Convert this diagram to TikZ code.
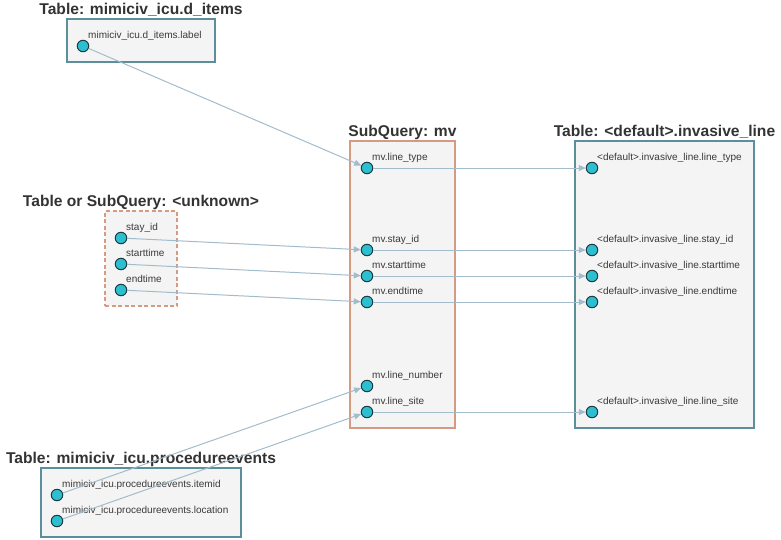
\documentclass[tikz,border=0pt]{standalone}
\usepackage{fontspec}
\setmainfont{Liberation Sans}
\usetikzlibrary{arrows.meta}
\definecolor{boxfill}{HTML}{F4F4F4}
\definecolor{tblborder}{HTML}{5B8F9B}
\definecolor{sqborder}{HTML}{D69A82}
\definecolor{edgec}{HTML}{A3BCCC}
\definecolor{dotfill}{HTML}{2BBFCF}
\definecolor{dotdraw}{HTML}{1E3A42}
\definecolor{txt}{HTML}{333333}
\definecolor{lbltxt}{HTML}{3A3A3A}
\begin{document}
\begin{tikzpicture}[x=1pt,y=-1pt,
 boxbase/.style={rectangle, fill=boxfill, line width=1.1pt, inner sep=0pt},
 tbl/.style={boxbase, draw=tblborder},
 sq/.style={boxbase, draw=sqborder},
 unkbox/.style={sq, dash pattern=on 4pt off 2.5pt},
 ttl/.style={font=\bfseries\fontsize{15.6}{18}\selectfont, text=txt, anchor=base, inner sep=0pt, yshift=4pt},
 dot/.style={circle, minimum size=11.5pt, inner sep=0pt, fill=dotfill, draw=dotdraw, line width=1pt},
 lbl/.style={font=\fontsize{10}{12}\selectfont, text=lbltxt, anchor=base west, inner sep=0pt},
 edge/.style={draw=edgec, line width=1pt, -{Triangle[length=7pt,width=6pt]}}
]
\useasboundingbox (0,0) rectangle (781,539);

% boxes
\node[tbl, minimum width=148pt, minimum height=43pt] (ditems) at (141,40.5) {};
\node[unkbox, minimum width=72pt, minimum height=95pt] (unk) at (141,258.5) {};
\node[sq, minimum width=105pt, minimum height=287pt] (mv) at (402.5,284.5) {};
\node[tbl, minimum width=179pt, minimum height=287pt] (inv) at (664.5,284.5) {};
\node[tbl, minimum width=200pt, minimum height=69pt] (proc) at (141,502.5) {};

% titles
\node[ttl] (t_ditems) at (ditems.north) {Table: mimiciv\_icu.d\_items};
\node[ttl] (t_unk) at (unk.north) {Table or SubQuery: <unknown>};
\node[ttl] (t_mv) at (mv.north) {SubQuery: mv};
\node[ttl] (t_inv) at (inv.north) {Table: <default>.invasive\_line};
\node[ttl] (t_proc) at (proc.north) {Table: mimiciv\_icu.procedureevents};

% d_items
\node[dot] (d_label) at (83,46) {};
\node[lbl] (l_d_label) at (88,38.5) {mimiciv\_icu.d\_items.label};

% unknown
\node[dot] (u_stay) at (121,238) {};
\node[lbl] (l_u_stay) at (126,230.5) {stay\_id};
\node[dot] (u_start) at (121,264) {};
\node[lbl] (l_u_start) at (126,256.5) {starttime};
\node[dot] (u_end) at (121,290) {};
\node[lbl] (l_u_end) at (126,282.5) {endtime};

% mv
\node[dot] (m_type) at (367,168) {};
\node[lbl] (l_m_type) at (372,160.5) {mv.line\_type};
\node[dot] (m_stay) at (367,250) {};
\node[lbl] (l_m_stay) at (372,242.5) {mv.stay\_id};
\node[dot] (m_start) at (367,276) {};
\node[lbl] (l_m_start) at (372,268.5) {mv.starttime};
\node[dot] (m_end) at (367,302) {};
\node[lbl] (l_m_end) at (372,294.5) {mv.endtime};
\node[dot] (m_num) at (367,386) {};
\node[lbl] (l_m_num) at (372,378.5) {mv.line\_number};
\node[dot] (m_site) at (367,412) {};
\node[lbl] (l_m_site) at (372,404.5) {mv.line\_site};

% invasive_line
\node[dot] (i_type) at (592,168) {};
\node[lbl] (l_i_type) at (597,160.5) {<default>.invasive\_line.line\_type};
\node[dot] (i_stay) at (592,250) {};
\node[lbl] (l_i_stay) at (597,242.5) {<default>.invasive\_line.stay\_id};
\node[dot] (i_start) at (592,276) {};
\node[lbl] (l_i_start) at (597,268.5) {<default>.invasive\_line.starttime};
\node[dot] (i_end) at (592,302) {};
\node[lbl] (l_i_end) at (597,294.5) {<default>.invasive\_line.endtime};
\node[dot] (i_site) at (592,412) {};
\node[lbl] (l_i_site) at (597,404.5) {<default>.invasive\_line.line\_site};

% procedureevents
\node[dot] (p_item) at (57,495) {};
\node[lbl] (l_p_item) at (62,487.5) {mimiciv\_icu.procedureevents.itemid};
\node[dot] (p_loc) at (57,521) {};
\node[lbl] (l_p_loc) at (62,513.5) {mimiciv\_icu.procedureevents.location};

% edges
\draw[edge] (d_label) -- (m_type);
\draw[edge] (u_stay) -- (m_stay);
\draw[edge] (u_start) -- (m_start);
\draw[edge] (u_end) -- (m_end);
\draw[edge] (p_item) -- (m_num);
\draw[edge] (p_loc) -- (m_site);
\draw[edge] (m_type) -- (i_type);
\draw[edge] (m_stay) -- (i_stay);
\draw[edge] (m_start) -- (i_start);
\draw[edge] (m_end) -- (i_end);
\draw[edge] (m_site) -- (i_site);
\end{tikzpicture}
\end{document}
